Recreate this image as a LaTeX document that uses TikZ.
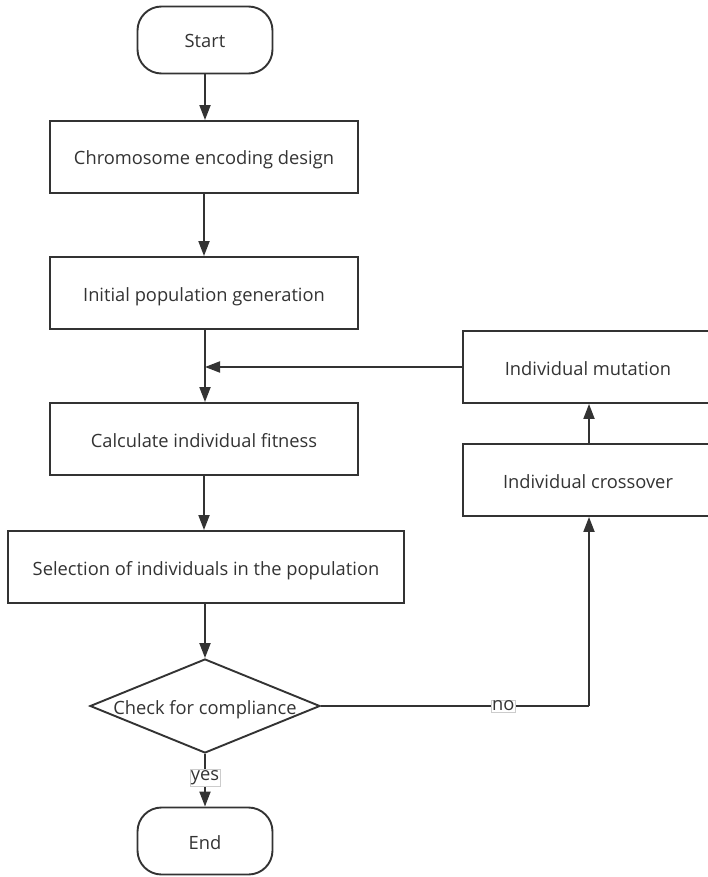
\documentclass[tikz,border=0pt]{standalone}
\usepackage{fontspec}
\setmainfont{Open Sans}
\usetikzlibrary{shapes.geometric,arrows.meta}
\definecolor{ln}{HTML}{333333}
\definecolor{tx}{HTML}{333333}
\begin{document}
\begin{tikzpicture}[x=1pt,y=-1pt,
  fnt/.style={font=\fontsize{18.3}{22}\selectfont,text height=18pt,text depth=2pt},
  base/.style={draw=ln,line width=1.9pt,fill=white,text=tx,fnt,inner sep=0pt,align=center},
  procbox/.style={base,rectangle,minimum height=72pt},
  termbox/.style={base,rectangle,rounded corners=24pt,minimum width=135pt,minimum height=67pt},
  decbox/.style={base,diamond,aspect=2.45,minimum width=230pt,minimum height=94pt},
  conn/.style={draw=ln,line width=1.9pt,-{Triangle[length=15pt,width=11pt]}},
  plain/.style={draw=ln,line width=1.9pt},
  lbl/.style={draw=black!20,line width=0.6pt,fill=white,text=tx,font=\fontsize{18.3}{22}\selectfont,inner sep=1pt}]
\useasboundingbox (0,0) rectangle (707,877);
\node[termbox] (start) at (205,40) {Start};
\node[procbox,minimum width=308pt] (enc) at (204,157) {Chromosome encoding design};
\node[procbox,minimum width=308pt] (init) at (204,293) {Initial population generation};
\node[procbox,minimum width=308pt] (fit) at (204,439) {Calculate individual fitness};
\node[procbox,minimum width=396pt] (sel) at (206,567) {Selection of individuals in the population};
\node[decbox] (chk) at (205,706) {};
\node[text=tx,fnt,inner sep=0pt] (chkt) at (205,706) {Check for compliance};
\node[termbox] (end) at (205,841) {End};
\node[procbox,minimum width=252pt] (mut) at (589,367) {};
\node[text=tx,fnt,inner sep=0pt] (mutt) at (588,367) {Individual mutation};
\node[procbox,minimum width=252pt] (cro) at (589,480) {};
\node[text=tx,fnt,inner sep=0pt] (crot) at (588,480) {Individual crossover};
\coordinate (merge) at (205,367);
\coordinate (corner) at (589,706);
\draw[conn] (start) -- (start|-enc.north);
\draw[conn] (enc) -- (init);
\draw[plain] (init.south-|merge) -- (merge);
\draw[conn] (merge) -- (merge|-fit.north);
\draw[conn] (mut.west) -- (merge);
\draw[conn] (fit) -- (fit|-sel.north);
\draw[conn] (sel.south-|chk) -- (chk.north);
\draw[conn] (chk.south) -- node[lbl,pos=0.45] (yes) {yes} (end.north);
\draw[plain] (chk.east) -- node[lbl,pos=0.68] (no) {no} (corner);
\draw[conn] (corner) -- (cro.south);
\draw[conn] (cro) -- (mut);
\end{tikzpicture}
\end{document}
